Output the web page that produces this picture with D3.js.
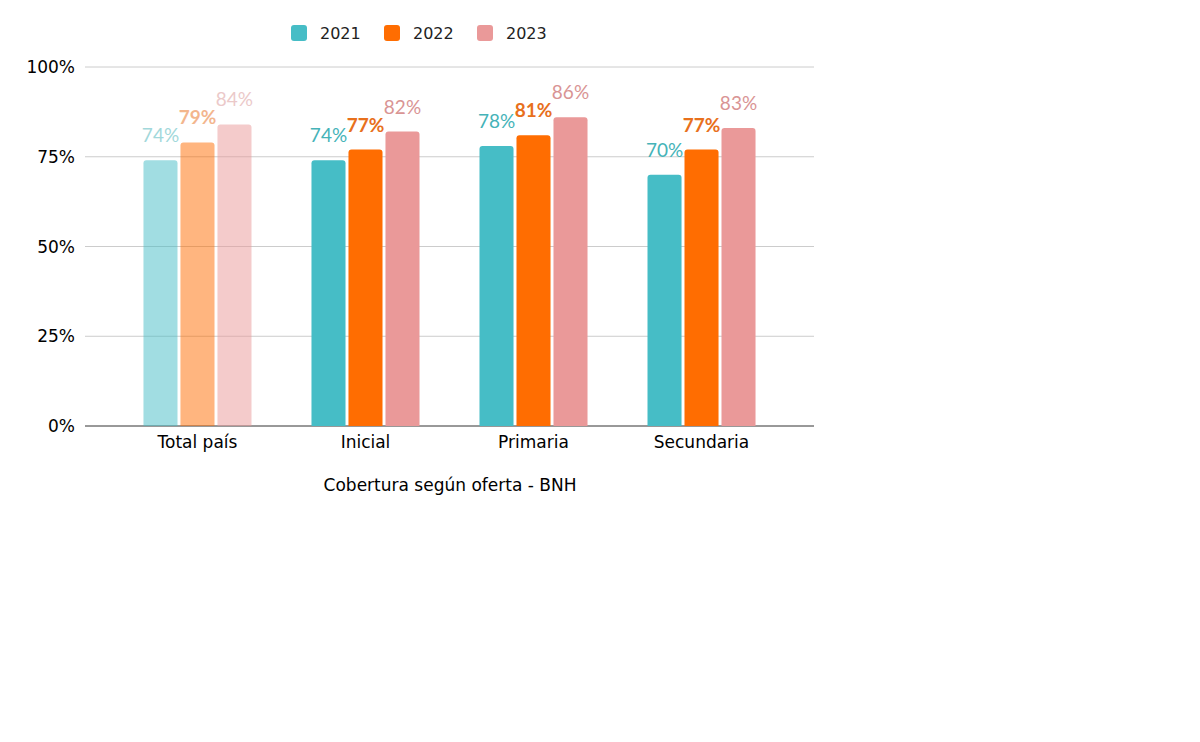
<!DOCTYPE html>
<html>
<head>
<meta charset="utf-8">
<script src="https://cdn.jsdelivr.net/npm/d3@7"></script>
<style>
  body { margin: 0; background: #fff; }
  text { font-family: "DejaVu Sans", Verdana, sans-serif; }
  .val { font-family: Lato, "Open Sans", sans-serif; }
</style>
</head>
<body>
<div id="chart"></div>
<script>
var width = 1200,
    height = 742;
var margin = { top: 67, right: 386, bottom: 316, left: 85 };

var categories = ["Total país", "Inicial", "Primaria", "Secundaria"];
var years = ["2021", "2022", "2023"];
var v2021 = [74, 74, 78, 70];
var v2022 = [79, 77, 81, 77];
var v2023 = [84, 82, 86, 83];
var yTicks = [0, 25, 50, 75, 100];

var color = ["#46bdc6", "#ff6d01", "#ea9999"];
var labelColor = ["#45b3b8", "#e8701c", "#d99494"];
var series = [v2021, v2022, v2023];

var svg = d3.select("#chart").append("svg")
    .attr("width", width)
    .attr("height", height);

var x0 = d3.scaleBand()
    .domain(categories)
    .range([margin.left, width - margin.right])
    .paddingInner(0.357)
    .paddingOuter(0.348);

var x1 = d3.scaleBand()
    .domain(years)
    .range([0, x0.bandwidth()])
    .paddingInner(0.08);

var y = d3.scaleLinear()
    .domain([0, 100])
    .range([height - margin.bottom, margin.top]);

// gridlines
svg.append("g")
    .selectAll("line")
    .data(yTicks)
    .enter().append("line")
    .attr("x1", margin.left)
    .attr("x2", width - margin.right)
    .attr("y1", function(d) { return y(d); })
    .attr("y2", function(d) { return y(d); })
    .attr("stroke", function(d) { return d == 0 ? "#333" : "#cccccc"; })
    .attr("stroke-width", 1);

svg.append("g")
    .selectAll("text")
    .data(yTicks)
    .enter().append("text")
    .attr("x", margin.left - 10)
    .attr("y", function(d) { return y(d) + 6; })
    .attr("text-anchor", "end")
    .style("font-size", "17px")
    .style("fill", "#000")
    .text(function(d) { return d + "%"; });

// bars
var groups = svg.selectAll(".grp")
    .data(categories)
    .enter().append("g")
    .attr("class", "grp")
    .attr("transform", function(d) { return "translate(" + x0(d) + ",0)"; })
    .style("opacity", function(d, i) { return i == 0 ? 0.5 : 1; });

groups.selectAll("path")
    .data(function(d, ci) {
        return years.map(function(yr, si) { return { year: yr, si: si, value: series[si][ci] }; });
    })
    .enter().append("path")
    .attr("fill", function(d) { return color[d.si]; })
    .attr("d", function(d) {
        var bx = x1(d.year), bw = x1.bandwidth(), top = y(d.value), bottom = y(0), r = 3;
        return "M" + bx + "," + bottom +
            "V" + (top + r) +
            "Q" + bx + "," + top + " " + (bx + r) + "," + top +
            "H" + (bx + bw - r) +
            "Q" + (bx + bw) + "," + top + " " + (bx + bw) + "," + (top + r) +
            "V" + bottom + "Z";
    });

groups.selectAll(".val")
    .data(function(d, ci) {
        return years.map(function(yr, si) { return { year: yr, si: si, value: series[si][ci] }; });
    })
    .enter().append("text")
    .attr("class", "val")
    .attr("x", function(d) { return x1(d.year) + x1.bandwidth() / 2; })
    .attr("y", function(d) { return y(d.value) - 18; })
    .attr("text-anchor", "middle")
    .style("font-size", "19px")
    .style("font-weight", function(d) { return d.si == 1 ? "bold" : "normal"; })
    .style("fill", function(d) { return labelColor[d.si]; })
    .text(function(d) { return d.value + "%"; });

// category labels
svg.append("g")
    .selectAll("text")
    .data(categories)
    .enter().append("text")
    .attr("x", function(d) { return x0(d) + x0.bandwidth() / 2; })
    .attr("y", height - margin.bottom + 22)
    .attr("text-anchor", "middle")
    .style("font-size", "17px")
    .style("fill", "#000")
    .text(function(d) { return d; });

svg.append("text")
    .attr("x", 450)
    .attr("y", 491)
    .attr("text-anchor", "middle")
    .style("font-size", "17px")
    .style("fill", "#000")
    .text("Cobertura según oferta - BNH");

// legend
var legendX = [291, 384, 477];
var legend = svg.selectAll(".legend")
    .data(years)
    .enter().append("g")
    .attr("class", "legend")
    .attr("transform", function(d, i) { return "translate(" + legendX[i] + ",25)"; });

legend.append("rect")
    .attr("width", 16)
    .attr("height", 16)
    .attr("rx", 3)
    .style("fill", function(d, i) { return color[i]; });

legend.append("text")
    .attr("x", 29)
    .attr("y", 14)
    .style("font-size", "16px")
    .style("fill", "#222")
    .text(function(d) { return d; });
</script>
</body>
</html>
